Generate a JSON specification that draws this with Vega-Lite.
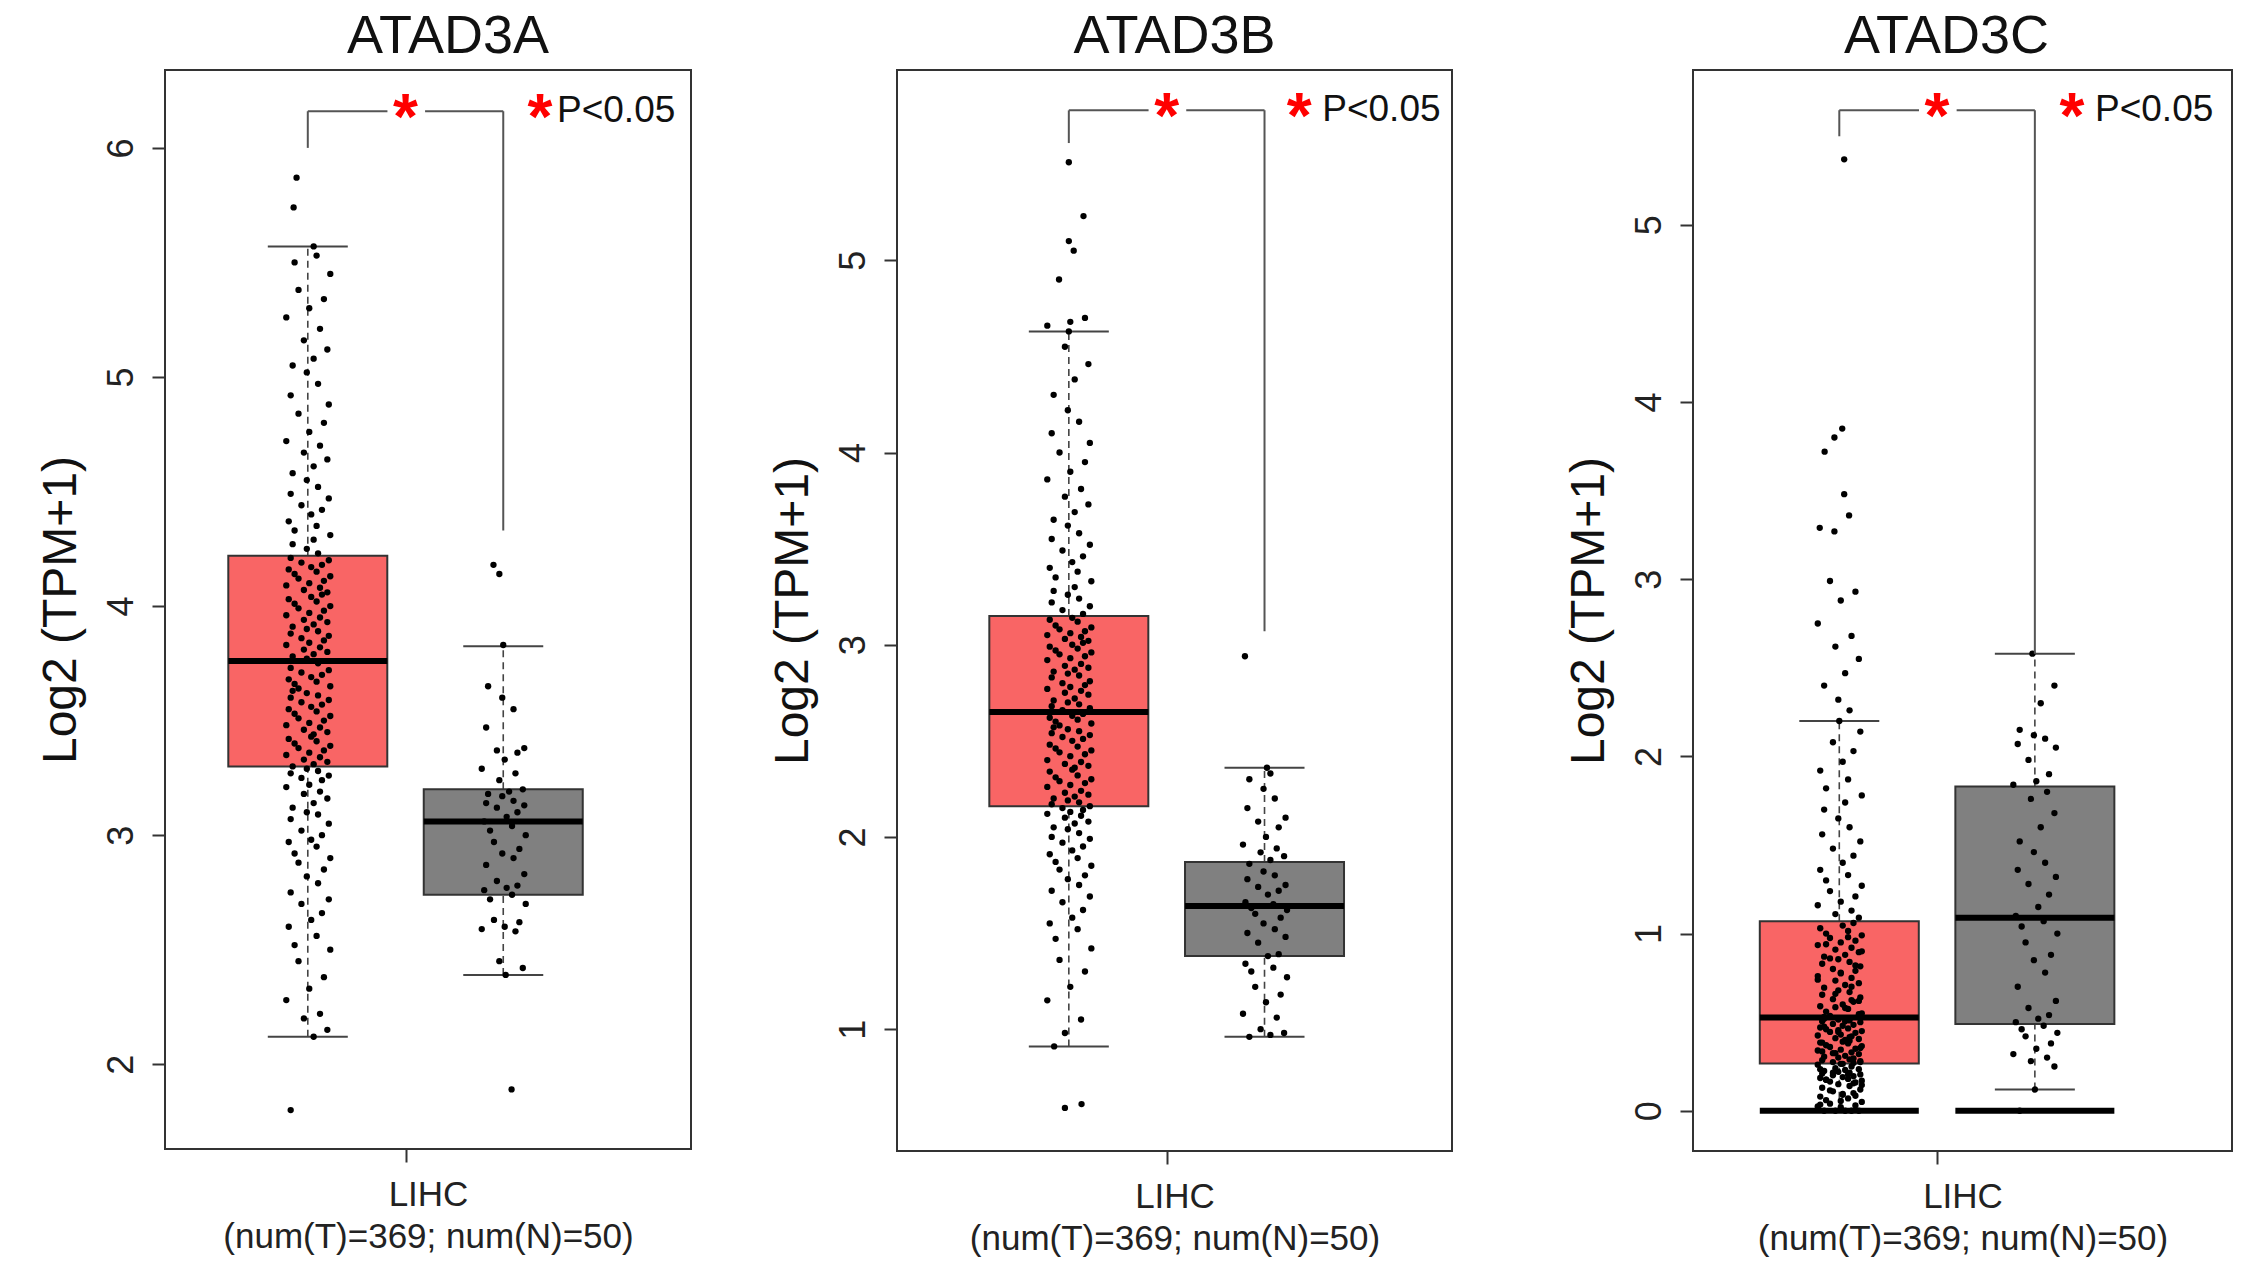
{
  "$schema": "https://vega.github.io/schema/vega-lite/v6.json",
  "padding": {"left": 36, "top": 9, "right": 0, "bottom": 0},
  "config": {
    "font": "Liberation Sans",
    "background": "white",
    "view": {"stroke": "#333333", "strokeWidth": 2},
    "axis": {"grid": false, "domain": false, "tickColor": "#333333", "tickWidth": 2, "tickSize": 13, "labelFont": "Liberation Sans", "labelFontSize": 36, "labelColor": "#222222", "titleFont": "Liberation Sans", "titleFontWeight": "normal", "titleColor": "#111111"},
    "axisY": {"labelAngle": -90, "labelAlign": "center", "labelBaseline": "bottom", "labelPadding": 12, "titleFontSize": 48, "titlePadding": 18, "format": "d"},
    "axisX": {"labels": false, "titleFontSize": 35, "titleLineHeight": 42, "titlePadding": 14, "titleColor": "#222222"},
    "title": {"fontSize": 54, "fontWeight": "normal", "color": "#111111", "font": "Liberation Sans", "anchor": "middle", "baseline": "alphabetic", "offset": 6}
  },
  "datasets": {
    "bA": [{"g": "T", "x": 0.8, "lo": 2.12, "q1": 3.30, "med": 3.76, "q3": 4.22, "hi": 5.57}, {"g": "N", "x": 1.2, "lo": 2.39, "q1": 2.74, "med": 3.06, "q3": 3.20, "hi": 3.825}],
    "bB": [{"g": "T", "x": 0.8, "lo": 0.91, "q1": 2.16, "med": 2.65, "q3": 3.15, "hi": 4.63}, {"g": "N", "x": 1.2, "lo": 0.96, "q1": 1.38, "med": 1.64, "q3": 1.87, "hi": 2.36}],
    "bC": [{"g": "T", "x": 0.8, "lo": 0.0, "q1": 0.267, "med": 0.526, "q3": 1.07, "hi": 2.20}, {"g": "N", "x": 1.2, "lo": 0.12, "q1": 0.49, "med": 1.09, "q3": 1.83, "hi": 2.58}],
    "zC": [{"x": 0.8, "y": 0}, {"x": 1.2, "y": 0}],
    "kA": [{"x": 0.8, "x2": 0.8, "y": 6.0, "y2": 6.16}, {"x": 0.8, "x2": 0.963, "y": 6.16, "y2": 6.16}, {"x": 1.04, "x2": 1.2, "y": 6.16, "y2": 6.16}, {"x": 1.2, "x2": 1.2, "y": 6.16, "y2": 4.33}],
    "kB": [{"x": 0.8, "x2": 0.8, "y": 5.61, "y2": 5.78}, {"x": 0.8, "x2": 0.963, "y": 5.78, "y2": 5.78}, {"x": 1.04, "x2": 1.2, "y": 5.78, "y2": 5.78}, {"x": 1.2, "x2": 1.2, "y": 5.78, "y2": 3.07}],
    "kC": [{"x": 0.8, "x2": 0.8, "y": 5.50, "y2": 5.647}, {"x": 0.8, "x2": 0.963, "y": 5.647, "y2": 5.647}, {"x": 1.04, "x2": 1.2, "y": 5.647, "y2": 5.647}, {"x": 1.2, "x2": 1.2, "y": 5.647, "y2": 2.58}],
    "sA": [{"x": 1.0, "y": 6.16}, {"x": 1.275, "y": 6.16}],
    "sB": [{"x": 1.0, "y": 5.78}, {"x": 1.271, "y": 5.78}],
    "sC": [{"x": 1.0, "y": 5.647}, {"x": 1.276, "y": 5.647}],
    "lA": [{"x": 1.31, "y": 6.16, "t": "P<0.05"}],
    "lB": [{"x": 1.318, "y": 5.78, "t": "P<0.05"}],
    "lC": [{"x": 1.323, "y": 5.647, "t": "P<0.05"}],
    "pA": [
      {"x":0.765,"y":1.80},{"x":0.812,"y":2.12},{"x":0.840,"y":2.15},{"x":0.792,"y":2.20},{"x":0.825,"y":2.22},{"x":0.756,"y":2.28},{"x":0.803,"y":2.33},{"x":0.833,"y":2.38},{"x":0.781,"y":2.45},{"x":0.846,"y":2.50},{"x":0.773,"y":2.52},{"x":0.818,"y":2.56},{"x":0.761,"y":2.60},{"x":0.807,"y":2.63},{"x":0.829,"y":2.66},{"x":0.787,"y":2.70},{"x":0.843,"y":2.72},{"x":0.765,"y":2.75},{"x":0.821,"y":2.79},{"x":0.798,"y":2.82},
      {"x":0.833,"y":2.85},{"x":0.781,"y":2.88},{"x":0.846,"y":2.90},{"x":0.773,"y":2.92},{"x":0.818,"y":2.95},{"x":0.761,"y":2.97},{"x":0.807,"y":2.98},{"x":0.829,"y":3.00},{"x":0.787,"y":3.02},{"x":0.843,"y":3.05},{"x":0.765,"y":3.07},{"x":0.821,"y":3.09},{"x":0.798,"y":3.10},{"x":0.769,"y":3.12},{"x":0.812,"y":3.14},{"x":0.840,"y":3.16},{"x":0.792,"y":3.18},{"x":0.825,"y":3.19},{"x":0.756,"y":3.21},{"x":0.803,"y":3.22},
      {"x":0.829,"y":3.24},{"x":0.787,"y":3.25},{"x":0.843,"y":3.26},{"x":0.765,"y":3.27},{"x":0.821,"y":3.28},{"x":0.798,"y":3.29},{"x":0.769,"y":3.30},{"x":0.812,"y":3.31},{"x":0.840,"y":3.32},{"x":0.792,"y":3.33},{"x":0.825,"y":3.34},{"x":0.756,"y":3.35},{"x":0.803,"y":3.36},{"x":0.833,"y":3.37},{"x":0.781,"y":3.38},{"x":0.846,"y":3.39},{"x":0.773,"y":3.40},{"x":0.818,"y":3.41},{"x":0.761,"y":3.42},{"x":0.807,"y":3.43},
      {"x":0.812,"y":3.44},{"x":0.840,"y":3.45},{"x":0.792,"y":3.46},{"x":0.825,"y":3.47},{"x":0.756,"y":3.48},{"x":0.803,"y":3.49},{"x":0.833,"y":3.50},{"x":0.781,"y":3.51},{"x":0.846,"y":3.52},{"x":0.773,"y":3.53},{"x":0.818,"y":3.54},{"x":0.761,"y":3.55},{"x":0.807,"y":3.56},{"x":0.829,"y":3.57},{"x":0.787,"y":3.58},{"x":0.843,"y":3.59},{"x":0.765,"y":3.60},{"x":0.821,"y":3.61},{"x":0.798,"y":3.62},{"x":0.769,"y":3.63},
      {"x":0.781,"y":3.64},{"x":0.846,"y":3.65},{"x":0.773,"y":3.66},{"x":0.818,"y":3.67},{"x":0.761,"y":3.68},{"x":0.807,"y":3.69},{"x":0.829,"y":3.70},{"x":0.787,"y":3.71},{"x":0.843,"y":3.72},{"x":0.765,"y":3.73},{"x":0.821,"y":3.75},{"x":0.798,"y":3.77},{"x":0.769,"y":3.78},{"x":0.812,"y":3.79},{"x":0.840,"y":3.80},{"x":0.792,"y":3.81},{"x":0.825,"y":3.82},{"x":0.756,"y":3.83},{"x":0.803,"y":3.84},{"x":0.833,"y":3.85},
      {"x":0.787,"y":3.86},{"x":0.843,"y":3.87},{"x":0.765,"y":3.88},{"x":0.821,"y":3.89},{"x":0.798,"y":3.90},{"x":0.769,"y":3.91},{"x":0.812,"y":3.92},{"x":0.840,"y":3.93},{"x":0.792,"y":3.94},{"x":0.825,"y":3.95},{"x":0.756,"y":3.96},{"x":0.803,"y":3.97},{"x":0.833,"y":3.98},{"x":0.781,"y":3.99},{"x":0.846,"y":4.00},{"x":0.773,"y":4.01},{"x":0.818,"y":4.02},{"x":0.761,"y":4.03},{"x":0.807,"y":4.04},{"x":0.829,"y":4.05},
      {"x":0.840,"y":4.06},{"x":0.792,"y":4.07},{"x":0.825,"y":4.08},{"x":0.756,"y":4.09},{"x":0.803,"y":4.10},{"x":0.833,"y":4.11},{"x":0.781,"y":4.12},{"x":0.846,"y":4.13},{"x":0.773,"y":4.14},{"x":0.818,"y":4.15},{"x":0.761,"y":4.16},{"x":0.807,"y":4.17},{"x":0.829,"y":4.18},{"x":0.787,"y":4.19},{"x":0.843,"y":4.20},{"x":0.765,"y":4.21},{"x":0.821,"y":4.23},{"x":0.798,"y":4.25},{"x":0.769,"y":4.27},{"x":0.812,"y":4.29},
      {"x":0.846,"y":4.31},{"x":0.773,"y":4.33},{"x":0.818,"y":4.35},{"x":0.761,"y":4.37},{"x":0.807,"y":4.40},{"x":0.829,"y":4.42},{"x":0.787,"y":4.44},{"x":0.843,"y":4.47},{"x":0.765,"y":4.49},{"x":0.821,"y":4.52},{"x":0.798,"y":4.55},{"x":0.769,"y":4.58},{"x":0.812,"y":4.61},{"x":0.840,"y":4.64},{"x":0.792,"y":4.67},{"x":0.825,"y":4.70},{"x":0.756,"y":4.72},{"x":0.803,"y":4.76},{"x":0.833,"y":4.80},{"x":0.781,"y":4.84},
      {"x":0.843,"y":4.88},{"x":0.765,"y":4.92},{"x":0.821,"y":4.97},{"x":0.798,"y":5.02},{"x":0.769,"y":5.05},{"x":0.812,"y":5.08},{"x":0.840,"y":5.12},{"x":0.792,"y":5.16},{"x":0.825,"y":5.21},{"x":0.756,"y":5.26},{"x":0.803,"y":5.30},{"x":0.833,"y":5.34},{"x":0.781,"y":5.38},{"x":0.846,"y":5.45},{"x":0.773,"y":5.50},{"x":0.818,"y":5.53},{"x":0.812,"y":5.57},{"x":0.771,"y":5.74},{"x":0.777,"y":5.87}
    ],
    "nA": [
      {"x":1.217,"y":1.89},{"x":1.205,"y":2.39},{"x":1.240,"y":2.42},{"x":1.192,"y":2.45},{"x":1.225,"y":2.58},{"x":1.156,"y":2.59},{"x":1.203,"y":2.60},{"x":1.233,"y":2.62},{"x":1.181,"y":2.63},{"x":1.246,"y":2.70},{"x":1.173,"y":2.72},{"x":1.218,"y":2.74},{"x":1.161,"y":2.76},{"x":1.207,"y":2.77},{"x":1.229,"y":2.78},{"x":1.187,"y":2.80},{"x":1.243,"y":2.83},{"x":1.165,"y":2.87},{"x":1.221,"y":2.90},{"x":1.198,"y":2.92},
      {"x":1.233,"y":2.94},{"x":1.181,"y":2.97},{"x":1.246,"y":3.00},{"x":1.173,"y":3.02},{"x":1.218,"y":3.04},{"x":1.161,"y":3.06},{"x":1.207,"y":3.08},{"x":1.229,"y":3.10},{"x":1.187,"y":3.12},{"x":1.243,"y":3.13},{"x":1.165,"y":3.14},{"x":1.221,"y":3.15},{"x":1.198,"y":3.17},{"x":1.169,"y":3.18},{"x":1.212,"y":3.19},{"x":1.240,"y":3.20},{"x":1.192,"y":3.24},{"x":1.225,"y":3.27},{"x":1.156,"y":3.29},{"x":1.203,"y":3.33},
      {"x":1.229,"y":3.36},{"x":1.187,"y":3.37},{"x":1.243,"y":3.38},{"x":1.165,"y":3.47},{"x":1.221,"y":3.55},{"x":1.198,"y":3.60},{"x":1.169,"y":3.65},{"x":1.200,"y":3.83},{"x":1.192,"y":4.14},{"x":1.180,"y":4.18}
    ],
    "pB": [
      {"x":0.792,"y":0.59},{"x":0.826,"y":0.61},{"x":0.770,"y":0.91},{"x":0.792,"y":0.98},{"x":0.825,"y":1.05},{"x":0.756,"y":1.15},{"x":0.803,"y":1.22},{"x":0.833,"y":1.30},{"x":0.781,"y":1.36},{"x":0.846,"y":1.42},{"x":0.773,"y":1.47},{"x":0.818,"y":1.52},{"x":0.761,"y":1.55},{"x":0.807,"y":1.58},{"x":0.829,"y":1.62},{"x":0.787,"y":1.66},{"x":0.843,"y":1.69},{"x":0.765,"y":1.72},{"x":0.821,"y":1.75},{"x":0.798,"y":1.78},
      {"x":0.833,"y":1.80},{"x":0.781,"y":1.83},{"x":0.846,"y":1.85},{"x":0.773,"y":1.87},{"x":0.818,"y":1.89},{"x":0.761,"y":1.91},{"x":0.807,"y":1.93},{"x":0.829,"y":1.95},{"x":0.787,"y":1.97},{"x":0.843,"y":1.99},{"x":0.765,"y":2.00},{"x":0.821,"y":2.02},{"x":0.798,"y":2.04},{"x":0.769,"y":2.05},{"x":0.812,"y":2.07},{"x":0.840,"y":2.08},{"x":0.792,"y":2.10},{"x":0.825,"y":2.11},{"x":0.756,"y":2.12},{"x":0.803,"y":2.13},
      {"x":0.829,"y":2.14},{"x":0.787,"y":2.15},{"x":0.843,"y":2.16},{"x":0.765,"y":2.17},{"x":0.821,"y":2.18},{"x":0.798,"y":2.19},{"x":0.769,"y":2.20},{"x":0.812,"y":2.21},{"x":0.840,"y":2.22},{"x":0.792,"y":2.23},{"x":0.825,"y":2.24},{"x":0.756,"y":2.26},{"x":0.803,"y":2.27},{"x":0.833,"y":2.28},{"x":0.781,"y":2.29},{"x":0.846,"y":2.30},{"x":0.773,"y":2.31},{"x":0.818,"y":2.32},{"x":0.761,"y":2.34},{"x":0.807,"y":2.35},
      {"x":0.812,"y":2.36},{"x":0.840,"y":2.37},{"x":0.792,"y":2.38},{"x":0.825,"y":2.39},{"x":0.756,"y":2.40},{"x":0.803,"y":2.42},{"x":0.833,"y":2.43},{"x":0.781,"y":2.44},{"x":0.846,"y":2.45},{"x":0.773,"y":2.46},{"x":0.818,"y":2.47},{"x":0.761,"y":2.48},{"x":0.807,"y":2.50},{"x":0.829,"y":2.51},{"x":0.787,"y":2.52},{"x":0.843,"y":2.53},{"x":0.765,"y":2.54},{"x":0.821,"y":2.55},{"x":0.798,"y":2.56},{"x":0.769,"y":2.57},
      {"x":0.781,"y":2.58},{"x":0.846,"y":2.59},{"x":0.773,"y":2.60},{"x":0.818,"y":2.61},{"x":0.761,"y":2.62},{"x":0.807,"y":2.63},{"x":0.829,"y":2.64},{"x":0.787,"y":2.66},{"x":0.843,"y":2.67},{"x":0.765,"y":2.68},{"x":0.821,"y":2.69},{"x":0.798,"y":2.70},{"x":0.769,"y":2.71},{"x":0.812,"y":2.72},{"x":0.840,"y":2.74},{"x":0.792,"y":2.75},{"x":0.825,"y":2.76},{"x":0.756,"y":2.77},{"x":0.803,"y":2.78},{"x":0.833,"y":2.79},
      {"x":0.787,"y":2.80},{"x":0.843,"y":2.81},{"x":0.765,"y":2.83},{"x":0.821,"y":2.84},{"x":0.798,"y":2.85},{"x":0.769,"y":2.86},{"x":0.812,"y":2.87},{"x":0.840,"y":2.88},{"x":0.792,"y":2.89},{"x":0.825,"y":2.90},{"x":0.756,"y":2.92},{"x":0.803,"y":2.93},{"x":0.833,"y":2.94},{"x":0.781,"y":2.95},{"x":0.846,"y":2.96},{"x":0.773,"y":2.97},{"x":0.818,"y":2.98},{"x":0.761,"y":2.99},{"x":0.807,"y":3.00},{"x":0.829,"y":3.01},
      {"x":0.840,"y":3.02},{"x":0.792,"y":3.03},{"x":0.825,"y":3.04},{"x":0.756,"y":3.05},{"x":0.803,"y":3.06},{"x":0.833,"y":3.07},{"x":0.781,"y":3.08},{"x":0.846,"y":3.09},{"x":0.773,"y":3.10},{"x":0.818,"y":3.12},{"x":0.761,"y":3.13},{"x":0.807,"y":3.14},{"x":0.829,"y":3.16},{"x":0.787,"y":3.18},{"x":0.843,"y":3.20},{"x":0.765,"y":3.22},{"x":0.821,"y":3.24},{"x":0.798,"y":3.26},{"x":0.769,"y":3.28},{"x":0.812,"y":3.30},
      {"x":0.846,"y":3.33},{"x":0.773,"y":3.35},{"x":0.818,"y":3.38},{"x":0.761,"y":3.40},{"x":0.807,"y":3.43},{"x":0.829,"y":3.46},{"x":0.787,"y":3.49},{"x":0.843,"y":3.52},{"x":0.765,"y":3.55},{"x":0.821,"y":3.58},{"x":0.798,"y":3.62},{"x":0.769,"y":3.65},{"x":0.812,"y":3.69},{"x":0.840,"y":3.73},{"x":0.792,"y":3.77},{"x":0.825,"y":3.81},{"x":0.756,"y":3.86},{"x":0.803,"y":3.90},{"x":0.833,"y":3.95},{"x":0.781,"y":4.00},
      {"x":0.843,"y":4.05},{"x":0.765,"y":4.10},{"x":0.821,"y":4.16},{"x":0.798,"y":4.22},{"x":0.769,"y":4.30},{"x":0.812,"y":4.38},{"x":0.840,"y":4.46},{"x":0.792,"y":4.55},{"x":0.800,"y":4.63},{"x":0.756,"y":4.66},{"x":0.803,"y":4.68},{"x":0.833,"y":4.70},{"x":0.780,"y":4.90},{"x":0.810,"y":5.05},{"x":0.800,"y":5.10},{"x":0.830,"y":5.23},{"x":0.800,"y":5.51}
    ],
    "nB": [
      {"x":1.169,"y":0.96},{"x":1.212,"y":0.97},{"x":1.240,"y":0.98},{"x":1.192,"y":1.00},{"x":1.225,"y":1.06},{"x":1.156,"y":1.08},{"x":1.203,"y":1.14},{"x":1.233,"y":1.18},{"x":1.181,"y":1.22},{"x":1.246,"y":1.27},{"x":1.173,"y":1.30},{"x":1.218,"y":1.32},{"x":1.161,"y":1.34},{"x":1.207,"y":1.38},{"x":1.229,"y":1.39},{"x":1.187,"y":1.45},{"x":1.243,"y":1.48},{"x":1.165,"y":1.50},{"x":1.221,"y":1.52},{"x":1.198,"y":1.55},
      {"x":1.233,"y":1.58},{"x":1.181,"y":1.60},{"x":1.246,"y":1.62},{"x":1.173,"y":1.63},{"x":1.218,"y":1.65},{"x":1.161,"y":1.66},{"x":1.207,"y":1.70},{"x":1.229,"y":1.72},{"x":1.187,"y":1.74},{"x":1.243,"y":1.75},{"x":1.165,"y":1.78},{"x":1.221,"y":1.80},{"x":1.198,"y":1.82},{"x":1.169,"y":1.86},{"x":1.212,"y":1.88},{"x":1.240,"y":1.90},{"x":1.192,"y":1.92},{"x":1.225,"y":1.94},{"x":1.156,"y":1.96},{"x":1.203,"y":2.00},
      {"x":1.229,"y":2.05},{"x":1.187,"y":2.08},{"x":1.243,"y":2.10},{"x":1.165,"y":2.15},{"x":1.221,"y":2.20},{"x":1.198,"y":2.25},{"x":1.169,"y":2.30},{"x":1.212,"y":2.33},{"x":1.205,"y":2.36},{"x":1.160,"y":2.94}
    ],
    "pC": [
      {"x":0.769,"y":0.0},{"x":0.812,"y":0.0},{"x":0.840,"y":0.0},{"x":0.792,"y":0.0},{"x":0.825,"y":0.0},{"x":0.756,"y":0.01},{"x":0.803,"y":0.02},{"x":0.833,"y":0.03},{"x":0.781,"y":0.04},{"x":0.846,"y":0.05},{"x":0.773,"y":0.06},{"x":0.818,"y":0.07},{"x":0.761,"y":0.08},{"x":0.807,"y":0.09},{"x":0.829,"y":0.10},{"x":0.787,"y":0.11},{"x":0.843,"y":0.12},{"x":0.765,"y":0.13},{"x":0.821,"y":0.14},{"x":0.798,"y":0.15},
      {"x":0.833,"y":0.16},{"x":0.781,"y":0.165},{"x":0.846,"y":0.17},{"x":0.773,"y":0.175},{"x":0.818,"y":0.18},{"x":0.761,"y":0.185},{"x":0.807,"y":0.19},{"x":0.829,"y":0.195},{"x":0.787,"y":0.20},{"x":0.843,"y":0.205},{"x":0.765,"y":0.21},{"x":0.821,"y":0.215},{"x":0.798,"y":0.22},{"x":0.769,"y":0.225},{"x":0.812,"y":0.23},{"x":0.840,"y":0.235},{"x":0.792,"y":0.24},{"x":0.825,"y":0.25},{"x":0.756,"y":0.26},{"x":0.803,"y":0.265},
      {"x":0.829,"y":0.27},{"x":0.787,"y":0.275},{"x":0.843,"y":0.28},{"x":0.765,"y":0.285},{"x":0.821,"y":0.29},{"x":0.798,"y":0.30},{"x":0.769,"y":0.305},{"x":0.812,"y":0.31},{"x":0.840,"y":0.32},{"x":0.792,"y":0.325},{"x":0.825,"y":0.33},{"x":0.756,"y":0.34},{"x":0.803,"y":0.345},{"x":0.833,"y":0.35},{"x":0.781,"y":0.36},{"x":0.846,"y":0.365},{"x":0.773,"y":0.37},{"x":0.818,"y":0.38},{"x":0.761,"y":0.385},{"x":0.807,"y":0.39},
      {"x":0.812,"y":0.40},{"x":0.840,"y":0.405},{"x":0.792,"y":0.41},{"x":0.825,"y":0.42},{"x":0.756,"y":0.425},{"x":0.803,"y":0.43},{"x":0.833,"y":0.44},{"x":0.781,"y":0.445},{"x":0.846,"y":0.45},{"x":0.773,"y":0.46},{"x":0.818,"y":0.465},{"x":0.761,"y":0.47},{"x":0.807,"y":0.48},{"x":0.829,"y":0.485},{"x":0.787,"y":0.49},{"x":0.843,"y":0.50},{"x":0.765,"y":0.505},{"x":0.821,"y":0.51},{"x":0.798,"y":0.515},{"x":0.769,"y":0.52},
      {"x":0.781,"y":0.535},{"x":0.846,"y":0.55},{"x":0.773,"y":0.56},{"x":0.818,"y":0.575},{"x":0.761,"y":0.59},{"x":0.807,"y":0.60},{"x":0.829,"y":0.615},{"x":0.787,"y":0.63},{"x":0.843,"y":0.64},{"x":0.765,"y":0.655},{"x":0.821,"y":0.67},{"x":0.798,"y":0.68},{"x":0.769,"y":0.695},{"x":0.812,"y":0.71},{"x":0.840,"y":0.72},{"x":0.792,"y":0.735},{"x":0.825,"y":0.75},{"x":0.756,"y":0.76},{"x":0.803,"y":0.775},{"x":0.833,"y":0.79},
      {"x":0.787,"y":0.80},{"x":0.843,"y":0.815},{"x":0.765,"y":0.83},{"x":0.821,"y":0.84},{"x":0.798,"y":0.855},{"x":0.769,"y":0.87},{"x":0.812,"y":0.88},{"x":0.840,"y":0.895},{"x":0.792,"y":0.91},{"x":0.825,"y":0.92},{"x":0.756,"y":0.935},{"x":0.803,"y":0.95},{"x":0.833,"y":0.96},{"x":0.781,"y":0.975},{"x":0.846,"y":0.99},{"x":0.773,"y":1.00},{"x":0.818,"y":1.015},{"x":0.761,"y":1.03},{"x":0.807,"y":1.045},{"x":0.829,"y":1.06},
      {"x":0.840,"y":1.09},{"x":0.792,"y":1.11},{"x":0.825,"y":1.13},{"x":0.756,"y":1.16},{"x":0.803,"y":1.18},{"x":0.833,"y":1.21},{"x":0.781,"y":1.24},{"x":0.846,"y":1.27},{"x":0.773,"y":1.30},{"x":0.818,"y":1.33},{"x":0.761,"y":1.36},{"x":0.807,"y":1.40},{"x":0.829,"y":1.44},{"x":0.787,"y":1.48},{"x":0.843,"y":1.52},{"x":0.765,"y":1.56},{"x":0.821,"y":1.60},{"x":0.798,"y":1.65},{"x":0.769,"y":1.70},{"x":0.812,"y":1.74},
      {"x":0.846,"y":1.78},{"x":0.773,"y":1.82},{"x":0.818,"y":1.87},{"x":0.761,"y":1.92},{"x":0.807,"y":1.97},{"x":0.829,"y":2.03},{"x":0.787,"y":2.08},{"x":0.843,"y":2.14},{"x":0.800,"y":2.20},{"x":0.821,"y":2.26},{"x":0.798,"y":2.32},{"x":0.769,"y":2.40},{"x":0.812,"y":2.47},{"x":0.840,"y":2.55},{"x":0.792,"y":2.62},{"x":0.825,"y":2.68},{"x":0.756,"y":2.75},{"x":0.803,"y":2.88},{"x":0.833,"y":2.93},{"x":0.781,"y":2.99},
      {"x":0.790,"y":3.27},{"x":0.760,"y":3.29},{"x":0.820,"y":3.36},{"x":0.810,"y":3.48},{"x":0.770,"y":3.72},{"x":0.790,"y":3.80},{"x":0.806,"y":3.85},{"x":0.810,"y":5.37},
      {"x":0.756,"y":0.025},{"x":0.803,"y":0.055},{"x":0.833,"y":0.085},{"x":0.781,"y":0.115},{"x":0.846,"y":0.145},{"x":0.773,"y":0.175},{"x":0.818,"y":0.205},{"x":0.761,"y":0.235},{"x":0.807,"y":0.265},{"x":0.829,"y":0.295},{"x":0.787,"y":0.325},{"x":0.843,"y":0.355},{"x":0.765,"y":0.385},{"x":0.821,"y":0.415},{"x":0.798,"y":0.445},{"x":0.769,"y":0.475},{"x":0.812,"y":0.505},{"x":0.840,"y":0.545},{"x":0.792,"y":0.585},{"x":0.825,"y":0.625},
      {"x":0.761,"y":0.035},{"x":0.807,"y":0.095},{"x":0.829,"y":0.155},{"x":0.787,"y":0.215},{"x":0.843,"y":0.275},{"x":0.765,"y":0.335},{"x":0.821,"y":0.395},{"x":0.798,"y":0.455},{"x":0.769,"y":0.53},{"x":0.812,"y":0.58},{"x":0.840,"y":0.62},{"x":0.792,"y":0.66},{"x":0.825,"y":0.70},{"x":0.756,"y":0.74},{"x":0.803,"y":0.78},{"x":0.833,"y":0.82},{"x":0.781,"y":0.86},{"x":0.846,"y":0.90},{"x":0.773,"y":0.94},{"x":0.818,"y":0.98}
    ],
    "nC": [
      {"x":1.169,"y":0.0},{"x":1.200,"y":0.12},{"x":1.240,"y":0.25},{"x":1.192,"y":0.28},{"x":1.225,"y":0.30},{"x":1.156,"y":0.32},{"x":1.203,"y":0.35},{"x":1.233,"y":0.38},{"x":1.181,"y":0.42},{"x":1.246,"y":0.44},{"x":1.173,"y":0.46},{"x":1.218,"y":0.48},{"x":1.161,"y":0.50},{"x":1.207,"y":0.52},{"x":1.229,"y":0.54},{"x":1.187,"y":0.58},{"x":1.243,"y":0.62},{"x":1.165,"y":0.70},{"x":1.221,"y":0.78},{"x":1.198,"y":0.85},
      {"x":1.233,"y":0.88},{"x":1.181,"y":0.95},{"x":1.246,"y":1.00},{"x":1.173,"y":1.04},{"x":1.218,"y":1.07},{"x":1.161,"y":1.10},{"x":1.207,"y":1.15},{"x":1.229,"y":1.22},{"x":1.187,"y":1.28},{"x":1.243,"y":1.32},{"x":1.165,"y":1.36},{"x":1.221,"y":1.40},{"x":1.198,"y":1.46},{"x":1.169,"y":1.52},{"x":1.212,"y":1.60},{"x":1.240,"y":1.68},{"x":1.192,"y":1.76},{"x":1.225,"y":1.80},{"x":1.156,"y":1.84},{"x":1.203,"y":1.86},
      {"x":1.229,"y":1.90},{"x":1.187,"y":1.98},{"x":1.243,"y":2.05},{"x":1.165,"y":2.07},{"x":1.221,"y":2.10},{"x":1.198,"y":2.12},{"x":1.169,"y":2.15},{"x":1.212,"y":2.30},{"x":1.240,"y":2.40},{"x":1.195,"y":2.58}
    ]
  },
  "hconcat": [
    {
      "width": 526, "height": 1079,
      "title": {"text": "ATAD3A", "dx": 20},
      "layer": [
        {"data": {"name": "bA"}, "mark": {"type": "rule", "color": "#444444", "strokeWidth": 1.6, "strokeDash": [7, 5]},
         "encoding": {"x": {"field": "x", "type": "quantitative", "scale": {"domain": [0.518, 1.574], "nice": false, "zero": false}, "axis": {"values": [1], "title": ["LIHC", "(num(T)=369; num(N)=50)"]}},
                      "y": {"field": "q3", "type": "quantitative", "scale": {"domain": [1.63, 6.34], "nice": false, "zero": false}, "axis": {"values": [2, 3, 4, 5, 6], "title": "Log2 (TPM+1)"}},
                      "y2": {"field": "hi"}}},
        {"data": {"name": "bA"}, "mark": {"type": "rule", "color": "#444444", "strokeWidth": 1.6, "strokeDash": [7, 5]},
         "encoding": {"x": {"field": "x", "type": "quantitative"}, "y": {"field": "lo", "type": "quantitative"}, "y2": {"field": "q1"}}},
        {"data": {"name": "bA"}, "mark": {"type": "tick", "orient": "horizontal", "size": 80, "thickness": 2, "color": "#444444", "opacity": 1},
         "encoding": {"x": {"field": "x", "type": "quantitative"}, "y": {"field": "hi", "type": "quantitative"}}},
        {"data": {"name": "bA"}, "mark": {"type": "tick", "orient": "horizontal", "size": 80, "thickness": 2, "color": "#444444", "opacity": 1},
         "encoding": {"x": {"field": "x", "type": "quantitative"}, "y": {"field": "lo", "type": "quantitative"}}},
        {"data": {"name": "bA"}, "mark": {"type": "bar", "width": 159, "stroke": "#333333", "strokeWidth": 2},
         "encoding": {"x": {"field": "x", "type": "quantitative"}, "y": {"field": "q1", "type": "quantitative"}, "y2": {"field": "q3"},
                      "color": {"field": "g", "type": "nominal", "scale": {"domain": ["T", "N"], "range": ["#F96565", "#808080"]}, "legend": null}}},
        {"data": {"name": "bA"}, "mark": {"type": "tick", "orient": "horizontal", "size": 159, "thickness": 6, "color": "#000000", "opacity": 1},
         "encoding": {"x": {"field": "x", "type": "quantitative"}, "y": {"field": "med", "type": "quantitative"}}},
        {"data": {"name": "pA"}, "mark": {"type": "circle", "size": 40, "color": "#000000", "opacity": 1},
         "encoding": {"x": {"field": "x", "type": "quantitative"}, "y": {"field": "y", "type": "quantitative"}}},
        {"data": {"name": "nA"}, "mark": {"type": "circle", "size": 40, "color": "#000000", "opacity": 1},
         "encoding": {"x": {"field": "x", "type": "quantitative"}, "y": {"field": "y", "type": "quantitative"}}},
        {"data": {"name": "kA"}, "mark": {"type": "rule", "color": "#555555", "strokeWidth": 2},
         "encoding": {"x": {"field": "x", "type": "quantitative"}, "x2": {"field": "x2"}, "y": {"field": "y", "type": "quantitative"}, "y2": {"field": "y2"}}},
        {"data": {"name": "sA"}, "mark": {"type": "text", "text": "*", "color": "#FF0000", "fontSize": 64, "fontWeight": "bold", "align": "center", "baseline": "middle", "dy": 9},
         "encoding": {"x": {"field": "x", "type": "quantitative"}, "y": {"field": "y", "type": "quantitative"}}},
        {"data": {"name": "lA"}, "mark": {"type": "text", "color": "#111111", "fontSize": 37, "align": "left", "baseline": "middle"},
         "encoding": {"x": {"field": "x", "type": "quantitative"}, "y": {"field": "y", "type": "quantitative"}, "text": {"field": "t"}}}
      ]
    },
    {
      "spacing": 110,
      "hconcat": [
        {
          "width": 555, "height": 1081,
          "title": {"text": "ATAD3B"},
          "layer": [
            {"data": {"name": "bB"}, "mark": {"type": "rule", "color": "#444444", "strokeWidth": 1.6, "strokeDash": [7, 5]},
             "encoding": {"x": {"field": "x", "type": "quantitative", "scale": {"domain": [0.459, 1.573], "nice": false, "zero": false}, "axis": {"values": [1], "title": ["LIHC", "(num(T)=369; num(N)=50)"]}},
                          "y": {"field": "q3", "type": "quantitative", "scale": {"domain": [0.366, 5.99], "nice": false, "zero": false}, "axis": {"values": [1, 2, 3, 4, 5], "title": "Log2 (TPM+1)"}},
                          "y2": {"field": "hi"}}},
            {"data": {"name": "bB"}, "mark": {"type": "rule", "color": "#444444", "strokeWidth": 1.6, "strokeDash": [7, 5]},
             "encoding": {"x": {"field": "x", "type": "quantitative"}, "y": {"field": "lo", "type": "quantitative"}, "y2": {"field": "q1"}}},
            {"data": {"name": "bB"}, "mark": {"type": "tick", "orient": "horizontal", "size": 80, "thickness": 2, "color": "#444444", "opacity": 1},
             "encoding": {"x": {"field": "x", "type": "quantitative"}, "y": {"field": "hi", "type": "quantitative"}}},
            {"data": {"name": "bB"}, "mark": {"type": "tick", "orient": "horizontal", "size": 80, "thickness": 2, "color": "#444444", "opacity": 1},
             "encoding": {"x": {"field": "x", "type": "quantitative"}, "y": {"field": "lo", "type": "quantitative"}}},
            {"data": {"name": "bB"}, "mark": {"type": "bar", "width": 159, "stroke": "#333333", "strokeWidth": 2},
             "encoding": {"x": {"field": "x", "type": "quantitative"}, "y": {"field": "q1", "type": "quantitative"}, "y2": {"field": "q3"},
                          "color": {"field": "g", "type": "nominal", "scale": {"domain": ["T", "N"], "range": ["#F96565", "#808080"]}, "legend": null}}},
            {"data": {"name": "bB"}, "mark": {"type": "tick", "orient": "horizontal", "size": 159, "thickness": 6, "color": "#000000", "opacity": 1},
             "encoding": {"x": {"field": "x", "type": "quantitative"}, "y": {"field": "med", "type": "quantitative"}}},
            {"data": {"name": "pB"}, "mark": {"type": "circle", "size": 40, "color": "#000000", "opacity": 1},
             "encoding": {"x": {"field": "x", "type": "quantitative"}, "y": {"field": "y", "type": "quantitative"}}},
            {"data": {"name": "nB"}, "mark": {"type": "circle", "size": 40, "color": "#000000", "opacity": 1},
             "encoding": {"x": {"field": "x", "type": "quantitative"}, "y": {"field": "y", "type": "quantitative"}}},
            {"data": {"name": "kB"}, "mark": {"type": "rule", "color": "#555555", "strokeWidth": 2},
             "encoding": {"x": {"field": "x", "type": "quantitative"}, "x2": {"field": "x2"}, "y": {"field": "y", "type": "quantitative"}, "y2": {"field": "y2"}}},
            {"data": {"name": "sB"}, "mark": {"type": "text", "text": "*", "color": "#FF0000", "fontSize": 64, "fontWeight": "bold", "align": "center", "baseline": "middle", "dy": 9},
             "encoding": {"x": {"field": "x", "type": "quantitative"}, "y": {"field": "y", "type": "quantitative"}}},
            {"data": {"name": "lB"}, "mark": {"type": "text", "color": "#111111", "fontSize": 37, "align": "left", "baseline": "middle"},
             "encoding": {"x": {"field": "x", "type": "quantitative"}, "y": {"field": "y", "type": "quantitative"}, "text": {"field": "t"}}}
          ]
        },
        {
          "width": 539, "height": 1081,
          "title": {"text": "ATAD3C", "dx": -16},
          "layer": [
            {"data": {"name": "bC"}, "mark": {"type": "rule", "color": "#444444", "strokeWidth": 1.6, "strokeDash": [7, 5]},
             "encoding": {"x": {"field": "x", "type": "quantitative", "scale": {"domain": [0.511, 1.593], "nice": false, "zero": false}, "axis": {"values": [1], "title": ["LIHC", "(num(T)=369; num(N)=50)"]}},
                          "y": {"field": "q3", "type": "quantitative", "scale": {"domain": [-0.227, 5.874], "nice": false, "zero": false}, "axis": {"values": [0, 1, 2, 3, 4, 5], "title": "Log2 (TPM+1)"}},
                          "y2": {"field": "hi"}}},
            {"data": {"name": "bC"}, "mark": {"type": "rule", "color": "#444444", "strokeWidth": 1.6, "strokeDash": [7, 5]},
             "encoding": {"x": {"field": "x", "type": "quantitative"}, "y": {"field": "lo", "type": "quantitative"}, "y2": {"field": "q1"}}},
            {"data": {"name": "bC"}, "mark": {"type": "tick", "orient": "horizontal", "size": 80, "thickness": 2, "color": "#444444", "opacity": 1},
             "encoding": {"x": {"field": "x", "type": "quantitative"}, "y": {"field": "hi", "type": "quantitative"}}},
            {"data": {"name": "bC"}, "mark": {"type": "tick", "orient": "horizontal", "size": 80, "thickness": 2, "color": "#444444", "opacity": 1},
             "encoding": {"x": {"field": "x", "type": "quantitative"}, "y": {"field": "lo", "type": "quantitative"}}},
            {"data": {"name": "bC"}, "mark": {"type": "bar", "width": 159, "stroke": "#333333", "strokeWidth": 2},
             "encoding": {"x": {"field": "x", "type": "quantitative"}, "y": {"field": "q1", "type": "quantitative"}, "y2": {"field": "q3"},
                          "color": {"field": "g", "type": "nominal", "scale": {"domain": ["T", "N"], "range": ["#F96565", "#808080"]}, "legend": null}}},
            {"data": {"name": "bC"}, "mark": {"type": "tick", "orient": "horizontal", "size": 159, "thickness": 6, "color": "#000000", "opacity": 1},
             "encoding": {"x": {"field": "x", "type": "quantitative"}, "y": {"field": "med", "type": "quantitative"}}},
            {"data": {"name": "zC"}, "mark": {"type": "tick", "orient": "horizontal", "size": 159, "thickness": 6, "color": "#000000", "opacity": 1},
             "encoding": {"x": {"field": "x", "type": "quantitative"}, "y": {"field": "y", "type": "quantitative"}}},
            {"data": {"name": "pC"}, "mark": {"type": "circle", "size": 40, "color": "#000000", "opacity": 1},
             "encoding": {"x": {"field": "x", "type": "quantitative"}, "y": {"field": "y", "type": "quantitative"}}},
            {"data": {"name": "nC"}, "mark": {"type": "circle", "size": 40, "color": "#000000", "opacity": 1},
             "encoding": {"x": {"field": "x", "type": "quantitative"}, "y": {"field": "y", "type": "quantitative"}}},
            {"data": {"name": "kC"}, "mark": {"type": "rule", "color": "#555555", "strokeWidth": 2},
             "encoding": {"x": {"field": "x", "type": "quantitative"}, "x2": {"field": "x2"}, "y": {"field": "y", "type": "quantitative"}, "y2": {"field": "y2"}}},
            {"data": {"name": "sC"}, "mark": {"type": "text", "text": "*", "color": "#FF0000", "fontSize": 64, "fontWeight": "bold", "align": "center", "baseline": "middle", "dy": 9},
             "encoding": {"x": {"field": "x", "type": "quantitative"}, "y": {"field": "y", "type": "quantitative"}}},
            {"data": {"name": "lC"}, "mark": {"type": "text", "color": "#111111", "fontSize": 37, "align": "left", "baseline": "middle"},
             "encoding": {"x": {"field": "x", "type": "quantitative"}, "y": {"field": "y", "type": "quantitative"}, "text": {"field": "t"}}}
          ]
        }
      ]
    }
  ],
  "spacing": 76
}
